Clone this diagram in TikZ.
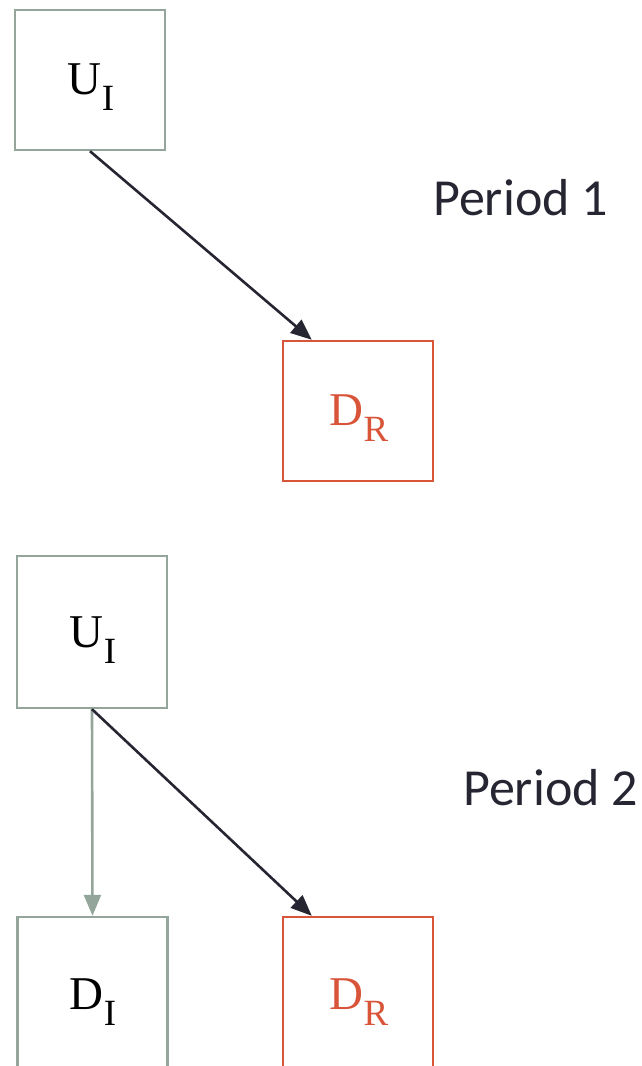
\documentclass[tikz,border=0pt]{standalone}
\usepackage{fontspec}
\setmainfont{Liberation Serif}
\newfontfamily\calib{Carlito}
\usetikzlibrary{arrows.meta}
\definecolor{boxgray}{HTML}{94A69B}
\definecolor{boxred}{HTML}{D8553A}
\definecolor{inkdark}{HTML}{262633}
\tikzset{
  box/.style={draw, line width=2.4pt, minimum width=150pt, inner sep=0pt, fill=none},
  grybox/.style={box, draw=boxgray},
  redbox/.style={box, draw=boxred},
  lab/.style={anchor=base, inner sep=0pt, font=\fontsize{47}{47}\selectfont},
  periodtxt/.style={anchor=base west, inner sep=0pt, text=inkdark, font=\calib\fontsize{52}{52}\selectfont},
  darkarrow/.style={draw=inkdark, line width=2.6pt, -{Triangle[length=21pt,width=17pt]}},
  grayarrow/.style={draw=boxgray, line width=2.6pt, -{Triangle[length=21pt,width=17pt]}}
}
\newcommand{\sublab}[1]{\raisebox{-16pt}{\fontsize{37}{37}\selectfont #1}}
\begin{document}
\begin{tikzpicture}[x=1pt,y=-1pt]
\useasboundingbox (0,0) rectangle (642,1066);
\clip (0,0) rectangle (642,1066);
% Period 1
\node[grybox, minimum height=140pt] (ui1) at (90,80) {};
\node[redbox, minimum height=140pt] (dr1) at (358,411) {};
\node[lab] (ui1l) at (91,94) {U\sublab{I}};
\node[lab, text=boxred] (dr1l) at (359,425) {D\sublab{R}};
\node[periodtxt] (p1) at (433,215) {Period 1};
\draw[darkarrow] (ui1.south) -- ([xshift=30pt]dr1.north west);
% Period 2
\node[grybox, minimum height=152pt] (ui2) at (92,632) {};
\node[grybox, minimum height=152pt] (di2) at (92.5,993) {};
\node[redbox, minimum height=152pt] (dr2) at (358,993) {};
\node[lab] (ui2l) at (93,647) {U\sublab{I}};
\node[lab] (di2l) at (93,1009) {D\sublab{I}};
\node[lab, text=boxred] (dr2l) at (359,1009) {D\sublab{R}};
\node[periodtxt] (p2) at (463,805) {Period 2};
\draw[grayarrow] (ui2.south) -- (di2.north);
\draw[darkarrow] (ui2.south) -- ([xshift=30pt]dr2.north west);
\end{tikzpicture}
\end{document}
